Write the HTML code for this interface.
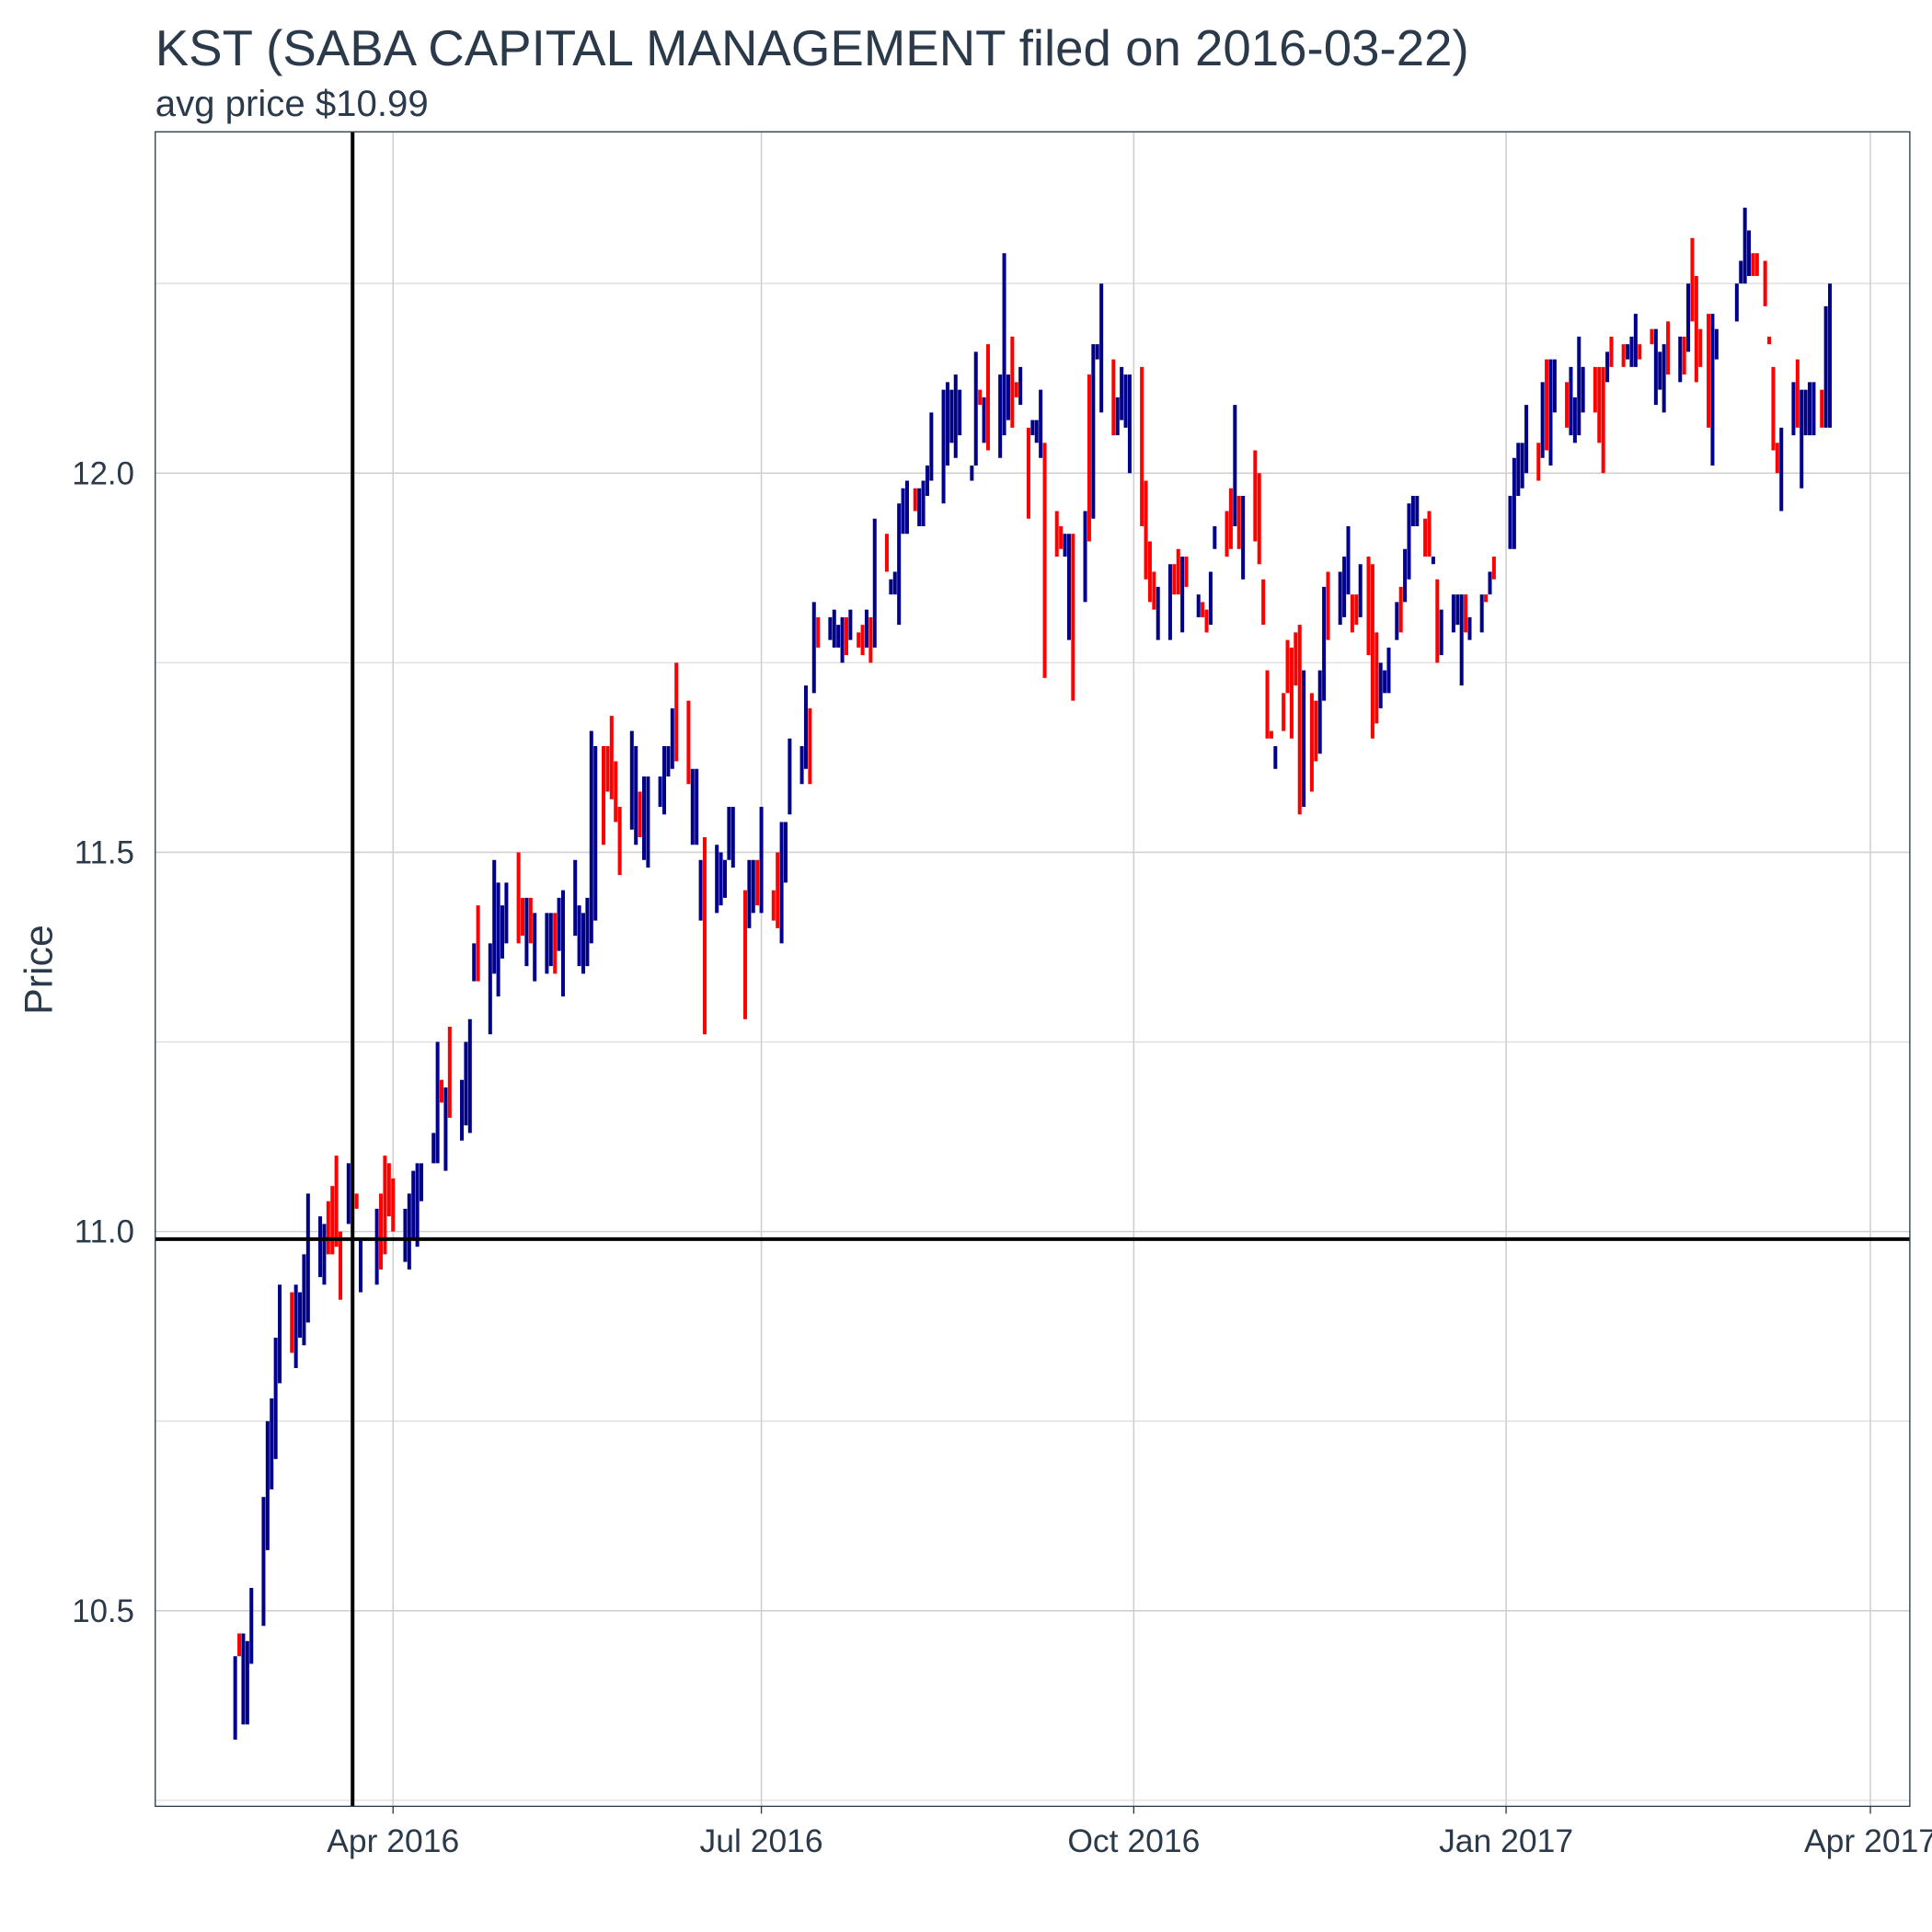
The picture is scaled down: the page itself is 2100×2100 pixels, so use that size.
<!DOCTYPE html>
<html><head><meta charset="utf-8"><style>
html,body{margin:0;padding:0;background:#fff;}
svg{display:block;font-family:"Liberation Sans",sans-serif;}
</style></head><body>
<svg id="chart" width="2100" height="2100" viewBox="0 0 1568 1568" xmlns="http://www.w3.org/2000/svg">
<text x="126" y="53" font-size="40.8" fill="#2b3a4a">KST (SABA CAPITAL MANAGEMENT filed on 2016-03-22)</text>
<text x="126" y="94" font-size="30" fill="#2b3a4a">avg price $10.99</text>
<text transform="translate(42,787) rotate(-90)" text-anchor="middle" font-size="32" fill="#2b3a4a">Price</text>
<g id="grid"></g>
<g id="bars"></g>
<g id="refs"></g>
<rect x="126" y="107" width="1424" height="1359" fill="none" stroke="#2b3a4a" stroke-width="1"/>
<g id="axes"></g>
</svg>
<script>
const startDate = "2016-02-22";
const days = [0,1,2,3,4, 7,8,9,10,11, 14,15,16,17,18, 21,22,23,24,25,26, 28,30,31, 35,36,37,38,39, 42,43,44,45,46, 49,50,51,52,53, 56,57,58,59,60, 63,64,65,66,67, 70,71,72,73,74, 77,78,79,80,81, 84,85,86,87,88,89, 91,92,93,94,95, 98,99,100,101,102, 105,106,107,108,109, 112,113,114,115,116, 119,120,121,122,123, 126,127,128,129,130, 133,134,135,136,137, 140,141,142,143,144, 147,148,149,150,151,152, 154,155,156,157,158, 161,162,163,164,165,166, 168,169,170,171,172, 175,176,177,178,179, 182,183,184,185,186, 189,190,191,192,193,194, 196,197,198,199,200, 203,204,205,206,207, 210,211,212,213,214, 217,218,219,220,221, 224,225,226,227,228, 231,232,233,234,235, 238,239,240,241,242, 245,246,247,248,249, 252,253,254,255,256,257, 259,260,261,262,263,264, 266,267,268,269,270, 273,274,275,276,277,278, 280,281,282,283,284,285, 287,288,289,290,291,292, 294,295,296,297,298, 301,302,303,304,305, 308,309,310,311, 315,316,317,318,319, 322,323,324,325,326, 329,330,331,332,333, 336,337,338,339,340, 343,344,345,346,347, 350,351,352,353,354, 357,358,359,360,361,362, 364,365,366, 371,372,373,374,375,376, 378,379,380,381,382, 385,386,387,388,389,390, 392,393,394];
const lows = [10.33,10.44,10.35,10.35,10.43, 10.48,10.58,10.66,10.70,10.80, 10.84,10.82,10.86,10.85,10.88, 10.94,10.93,10.97,10.97,10.98,10.91, 11.01,11.03,10.92, 10.93,10.95,10.97,11.02,11.00, 10.96,10.95,10.99,10.98,11.04, 11.09,11.09,11.17,11.08,11.15, 11.12,11.14,11.13,11.33,11.33, 11.26,11.34,11.31,11.36,11.38, 11.38,11.39,11.35,11.38,11.33, 11.34,11.35,11.34,11.37,11.31, 11.39,11.35,11.34,11.35,11.38,11.41, 11.51,11.58,11.57,11.54,11.47, 11.53,11.51,11.52,11.49,11.48, 11.56,11.55,11.60,11.61,11.62, 11.59,11.51,11.51,11.41,11.26, 11.42,11.43,11.44,11.49,11.48, 11.28,11.40,11.42,11.43,11.42, 11.41,11.40,11.38,11.46,11.55, 11.59,11.61,11.59,11.71,11.77, 11.78,11.77,11.77,11.75,11.76,11.78, 11.77,11.76,11.77,11.75,11.77, 11.87,11.84,11.84,11.80,11.92,11.92, 11.95,11.93,11.93,11.97,11.99, 11.96,12.01,12.04,12.02,12.05, 11.99,12.01,12.09,12.04,12.03, 12.02,12.05,12.07,12.06,12.10,12.09, 11.94,12.05,12.04,12.02,11.73, 11.89,11.90,11.89,11.78,11.70, 11.83,11.91,11.94,12.15,12.08, 12.05,12.05,12.07,12.06,12.00, 11.93,11.86,11.83,11.82,11.78, 11.78,11.84,11.84,11.79,11.85, 11.81,11.81,11.79,11.80,11.90, 11.89,11.90,11.93,11.90,11.86, 11.91,11.88,11.80,11.65,11.65,11.61, 11.66,11.71,11.65,11.72,11.55,11.56, 11.58,11.62,11.63,11.70,11.78, 11.80,11.81,11.84,11.79,11.80,11.81, 11.76,11.65,11.67,11.69,11.71,11.71, 11.78,11.79,11.83,11.86,11.93,11.93, 11.89,11.89,11.88,11.75,11.76, 11.79,11.80,11.72,11.79,11.78, 11.79,11.83,11.84,11.86, 11.90,11.90,11.97,11.98,12.00, 11.99,12.02,12.03,12.01,12.08, 12.06,12.05,12.04,12.05,12.08, 12.08,12.04,12.00,12.12,12.14, 12.14,12.15,12.14,12.14,12.15, 12.17,12.09,12.11,12.08,12.13, 12.12,12.13,12.16,12.20,12.12,12.14, 12.06,12.01,12.15, 12.20,12.25,12.25,12.26,12.26,12.26, 12.22,12.17,12.03,12.00,11.95, 12.05,12.06,11.98,12.05,12.05,12.05, 12.06,12.06,12.06];
const highs = [10.44,10.47,10.47,10.46,10.53, 10.65,10.75,10.78,10.86,10.93, 10.92,10.93,10.92,10.97,11.05, 11.02,11.01,11.04,11.06,11.10,11.00, 11.09,11.05,10.99, 11.03,11.05,11.10,11.09,11.07, 11.03,11.05,11.08,11.09,11.09, 11.13,11.25,11.20,11.19,11.27, 11.20,11.25,11.28,11.38,11.43, 11.38,11.49,11.46,11.43,11.46, 11.50,11.44,11.44,11.44,11.42, 11.42,11.42,11.42,11.44,11.45, 11.49,11.43,11.42,11.44,11.66,11.64, 11.64,11.64,11.68,11.62,11.56, 11.66,11.64,11.58,11.60,11.60, 11.60,11.64,11.64,11.69,11.75, 11.70,11.61,11.61,11.49,11.52, 11.51,11.50,11.49,11.56,11.56, 11.45,11.49,11.49,11.49,11.56, 11.45,11.50,11.54,11.54,11.65, 11.64,11.72,11.69,11.83,11.81, 11.81,11.82,11.80,11.81,11.81,11.82, 11.79,11.80,11.82,11.81,11.94, 11.92,11.86,11.87,11.96,11.98,11.99, 11.98,11.98,11.99,12.01,12.08, 12.11,12.12,12.11,12.13,12.11, 12.01,12.16,12.11,12.10,12.17, 12.13,12.29,12.13,12.18,12.12,12.14, 12.06,12.07,12.07,12.11,12.04, 11.95,11.93,11.92,11.92,11.92, 11.95,12.13,12.17,12.17,12.25, 12.15,12.10,12.14,12.13,12.13, 12.14,11.99,11.91,11.87,11.85, 11.88,11.88,11.90,11.89,11.89, 11.84,11.83,11.82,11.87,11.93, 11.95,11.98,12.09,11.97,11.97, 12.03,12.00,11.86,11.74,11.66,11.64, 11.71,11.78,11.77,11.79,11.80,11.74, 11.71,11.70,11.74,11.85,11.87, 11.87,11.89,11.93,11.84,11.84,11.88, 11.89,11.88,11.79,11.75,11.74,11.77, 11.83,11.85,11.90,11.96,11.97,11.97, 11.94,11.95,11.89,11.86,11.82, 11.84,11.84,11.84,11.84,11.81, 11.84,11.84,11.87,11.89, 11.97,12.02,12.04,12.04,12.09, 12.04,12.12,12.15,12.15,12.15, 12.12,12.14,12.10,12.18,12.14, 12.14,12.14,12.14,12.16,12.18, 12.17,12.17,12.18,12.21,12.17, 12.19,12.19,12.16,12.17,12.20, 12.18,12.18,12.25,12.31,12.26,12.19, 12.21,12.21,12.19, 12.25,12.28,12.35,12.32,12.29,12.29, 12.28,12.18,12.14,12.04,12.06, 12.12,12.15,12.11,12.11,12.12,12.12, 12.11,12.22,12.25];
const upDay = [1,0,1,1,1, 1,1,1,1,1, 0,1,1,1,1, 1,1,0,0,0,0, 1,0,1, 1,0,0,0,0, 1,1,1,1,1, 1,1,0,1,0, 1,1,1,1,0, 1,1,1,1,1, 0,0,1,0,1, 1,1,0,1,1, 1,1,1,1,1,1, 0,0,0,0,0, 1,1,0,1,1, 1,1,1,1,0, 0,1,1,1,0, 1,1,1,1,1, 0,1,1,0,1, 0,0,1,1,1, 1,1,0,1,0, 1,1,1,1,0,1, 0,0,1,0,1, 0,1,1,1,1,1, 0,1,1,1,1, 1,1,1,1,1, 1,1,0,1,0, 1,1,1,0,0,1, 0,1,1,1,0, 0,0,1,1,0, 1,0,1,1,1, 0,1,1,1,1, 0,0,0,0,1, 1,0,0,1,0, 1,0,0,1,1, 0,0,1,0,1, 0,0,0,0,0,1, 0,0,0,0,0,1, 0,0,1,1,0, 1,1,1,0,0,1, 0,0,0,1,1,1, 1,0,1,1,1,1, 0,0,1,0,1, 1,1,1,0,1, 1,0,1,0, 1,1,1,1,1, 0,1,0,1,1, 0,1,1,1,1, 0,0,0,1,0, 0,1,1,1,0, 0,1,1,1,0, 1,0,1,0,0,0, 0,1,1, 1,1,1,1,0,0, 0,0,0,0,1, 1,0,1,1,1,1, 0,1,1];
const yTicks = [10.5, 11.0, 11.5, 12.0];
const yMinor = [10.25, 10.75, 11.25, 11.75, 12.25];
const xTickDates = ["2016-04-01","2016-07-01","2016-10-01","2017-01-01","2017-04-01"];
const xTickLabels = ["Apr 2016","Jul 2016","Oct 2016","Jan 2017","Apr 2017"];
const filingDate = "2016-03-22";
const avgPrice = 10.99;

const NS = "http://www.w3.org/2000/svg";
const DAY = 86400000;
const t0 = Date.parse("2016-04-01T00:00:00Z");
function xScale(ms){ return 319 + (ms - t0)/DAY * (1518-319)/365; }
function xDate(s){ return xScale(Date.parse(s+"T00:00:00Z")); }
function yScale(v){ return 384 - (v-12)*615.5; }
function mk(tag, attrs, parent){ const e=document.createElementNS(NS,tag); for(const k in attrs) e.setAttribute(k,attrs[k]); parent.appendChild(e); return e; }
const grid=document.getElementById('grid'), bars=document.getElementById('bars'), refs=document.getElementById('refs'), axes=document.getElementById('axes');
yMinor.forEach(v=>{ const l=mk('line',{x1:126,x2:1550,y1:yScale(v),y2:yScale(v),stroke:'#dedede','stroke-width':1},grid);

 });
yTicks.forEach(v=>{ const l=mk('line',{x1:126,x2:1550,y1:yScale(v),y2:yScale(v),stroke:'#d0d0d0','stroke-width':1.2},grid);


const t=mk('text',{x:109,y:yScale(v)+9,'text-anchor':'end','font-size':26,fill:'#2b3a4a'},axes);
t.textContent=v.toFixed(1);

 });
xTickDates.forEach((d,i)=>{ const x=xDate(d);
const l=mk('line',{x1:x,x2:x,y1:107,y2:1466,stroke:'#d0d0d0','stroke-width':1.2},grid);


const tk=mk('line',{x1:x,x2:x,y1:1466,y2:1472,stroke:'#2b3a4a','stroke-width':1},axes);


const t=mk('text',{x:x,y:1503,'text-anchor':'middle','font-size':26.5,fill:'#2b3a4a'},axes);
t.textContent=xTickLabels[i];

 });
const s0=Date.parse(startDate+"T00:00:00Z");
days.forEach((d,i)=>{ const x=xScale(s0+d*DAY);
const b=mk('line',{x1:x,x2:x,y1:yScale(highs[i]),y2:yScale(lows[i]),stroke:upDay[i]?'#00008b':'#ff0000','stroke-width':3},bars);

 });
const vx=xDate(filingDate);
const vl=mk('line',{x1:vx,x2:vx,y1:107,y2:1466,stroke:'#000','stroke-width':3},refs);


const hl=mk('line',{x1:126,x2:1550,y1:yScale(avgPrice),y2:yScale(avgPrice),stroke:'#000','stroke-width':3},refs);


</script>
</body></html>
